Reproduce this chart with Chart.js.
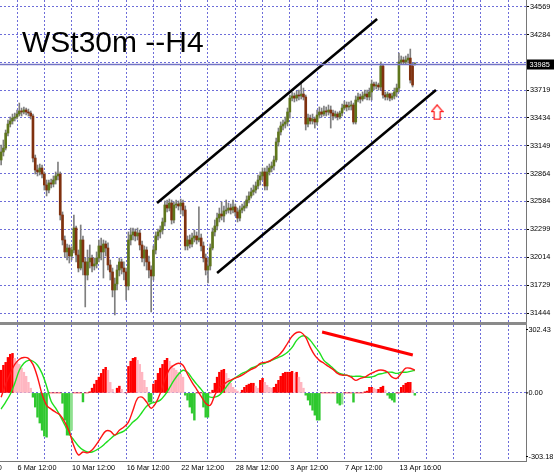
<!DOCTYPE html>
<html>
<head>
<meta charset="utf-8">
<title>WSt30m H4</title>
<script src="https://cdn.jsdelivr.net/npm/chart.js@4.4.1/dist/chart.umd.min.js"></script>
<style>
  body { margin: 0; background: #fff; }
  #wrap { position: relative; width: 554px; height: 473px; overflow: hidden; background: #fff; }
  #mainChart { position: absolute; left: 0; top: 0; }
  #oscChart { position: absolute; left: 0; top: 325px; }
  #sep { position: absolute; left: 0; top: 322px; width: 527px; height: 3px; background: #8a8a8a; }
  #title { position: absolute; left: 22px; top: 27px; font-family: "Liberation Sans", Arial, sans-serif;
           font-size: 30px; line-height: 30px; color: #000; white-space: nowrap; }
</style>
</head>
<body>
<div id="wrap">
  <canvas id="mainChart" width="554" height="322"></canvas>
  <div id="sep"></div>
  <canvas id="oscChart" width="554" height="148"></canvas>
  <div id="title">WSt30m --H4</div>
</div>
<script>
// H4 candles, bar 0 = 3 Mar 08:00 ... bar 182 = 14 Apr
const opens = [
  33005, 33087, 33127, 33280, 33372, 33403, 33433, 33444, 33474, 33505,
  33495, 33515, 33495, 33484, 33454, 33025, 32903, 32883, 32923, 32862,
  32750, 32699, 32771, 32760, 32801, 32842, 32862, 32444, 32189, 32067,
  32107, 32026, 32087, 32311, 32036, 31903, 32189, 31965, 31832, 31965,
  32005, 31924, 31944, 32005, 32128, 32067, 32148, 32107, 31934, 31863,
  31679, 31740, 31883, 31965, 31903, 31863, 31720, 32189, 32240, 32271,
  32230, 32260, 32138, 32005, 32087, 31965, 31883, 31822, 32087, 32230,
  32271, 32291, 32373, 32546, 32515, 32566, 32393, 32546, 32556, 32536,
  32566, 32495, 32128, 32189, 32148, 32209, 32230, 32189, 32209, 32128,
  32005, 31883, 31924, 32107, 32271, 32332, 32413, 32454, 32434, 32485,
  32495, 32515, 32495, 32526, 32475, 32413, 32495, 32515, 32536, 32597,
  32638, 32679, 32699, 32740, 32801, 32842, 32883, 32740, 32883, 32923,
  32944, 33005, 33189, 33291, 33352, 33372, 33393, 33495, 33637, 33658,
  33637, 33668, 33658, 33678, 33648, 33372, 33433, 33403, 33423, 33393,
  33464, 33495, 33474, 33505, 33495, 33515, 33484, 33454, 33474, 33444,
  33484, 33535, 33566, 33546, 33556, 33566, 33393, 33617, 33648, 33627,
  33658, 33678, 33648, 33699, 33780, 33760, 33770, 33750, 33964, 33668,
  33648, 33678, 33637, 33658, 33699, 33739, 34005, 34025, 34005, 34025,
  34045, 33964, 33980
];
const highs = [
  33158, 33209, 33311, 33413, 33444, 33474, 33484, 33515, 33586, 33535,
  33546, 33535, 33525, 33505, 33474, 33056, 32954, 32964, 32954, 32883,
  32801, 32801, 32811, 32842, 32883, 32985, 32883, 32475, 32230, 32148,
  32138, 32118, 32444, 32332, 32087, 32342, 32230, 32005, 32087, 32138,
  32036, 32005, 32067, 32189, 32209, 32189, 32179, 32159, 31985, 31903,
  31801, 31934, 32005, 31995, 31965, 31903, 32271, 32311, 32311, 32301,
  32311, 32291, 32179, 32128, 32118, 32026, 31924, 32128, 32271, 32301,
  32332, 32413, 32587, 32597, 32607, 32597, 32577, 32597, 32587, 32607,
  32597, 32536, 32230, 32240, 32260, 32291, 32271, 32526, 32250, 32169,
  32046, 32005, 32148, 32311, 32393, 32464, 32515, 32577, 32536, 32597,
  32566, 32556, 32597, 32556, 32515, 32536, 32556, 32577, 32638, 32679,
  32719, 32750, 32781, 32852, 32883, 32923, 32923, 32944, 32964, 32985,
  33046, 33229, 33331, 33393, 33413, 33444, 33535, 33668, 33699, 33688,
  33709, 33719, 33790, 33739, 33668, 33474, 33464, 33474, 33444, 33515,
  33546, 33535, 33556, 33546, 33566, 33556, 33515, 33505, 33495, 33505,
  33576, 33607, 33597, 33597, 33607, 33586, 33658, 33688, 33678, 33699,
  33719, 33719, 33739, 33821, 33801, 33801, 33790, 34005, 33984, 33699,
  33699, 33688, 33688, 33739, 33780, 34096, 34066, 34056, 34066, 34086,
  34137, 33994, 33998
];
const lows = [
  32954, 33046, 33107, 33250, 33342, 33372, 33403, 33423, 33454, 33454,
  33474, 33464, 33454, 33423, 32985, 32862, 32842, 32852, 32821, 32699,
  32638, 32668, 32719, 32730, 32760, 32801, 32393, 32138, 32016, 31985,
  31954, 31985, 32056, 31965, 31863, 31883, 31832, 31506, 31781, 31903,
  31863, 31883, 31903, 31965, 31985, 31801, 32026, 31883, 31781, 31608,
  31424, 31679, 31822, 31842, 31781, 31577, 31679, 32138, 32189, 32179,
  32189, 32087, 31965, 31924, 31883, 31801, 31455, 31781, 32046, 32189,
  32209, 32250, 32332, 32475, 32485, 32352, 32362, 32515, 32495, 32454,
  32434, 32087, 32087, 32107, 32118, 32169, 32148, 32169, 32077, 31965,
  31832, 31750, 31883, 32087, 32230, 32291, 32373, 32393, 32373, 32454,
  32464, 32454, 32464, 32434, 32373, 32383, 32464, 32485, 32515, 32566,
  32617, 32648, 32668, 32709, 32750, 32801, 32699, 32699, 32852, 32883,
  32903, 32985, 33148, 33260, 33311, 33331, 33352, 33433, 33607, 33597,
  33607, 33617, 33627, 33617, 33311, 33342, 33372, 33372, 33331, 33362,
  33433, 33444, 33454, 33454, 33464, 33331, 33413, 33433, 33413, 33423,
  33454, 33515, 33505, 33515, 33515, 33372, 33372, 33597, 33586, 33607,
  33627, 33617, 33617, 33617, 33719, 33729, 33719, 33719, 33637, 33617,
  33617, 33607, 33617, 33627, 33648, 33699, 33984, 33984, 33984, 33994,
  33790, 33750, 33972
];
const closes = [
  33087, 33127, 33280, 33372, 33403, 33433, 33444, 33474, 33505, 33495,
  33515, 33495, 33484, 33454, 33025, 32903, 32883, 32923, 32862, 32750,
  32699, 32771, 32760, 32801, 32842, 32862, 32444, 32189, 32067, 32107,
  32026, 32087, 32311, 32036, 31903, 32189, 31965, 31832, 31965, 32005,
  31924, 31944, 32005, 32128, 32067, 32148, 32107, 31934, 31863, 31679,
  31740, 31883, 31965, 31903, 31863, 31720, 32189, 32240, 32271, 32230,
  32260, 32138, 32005, 32087, 31965, 31883, 31822, 32087, 32230, 32271,
  32291, 32373, 32546, 32515, 32566, 32393, 32546, 32556, 32536, 32566,
  32495, 32128, 32189, 32148, 32209, 32230, 32189, 32209, 32128, 32005,
  31883, 31924, 32107, 32271, 32332, 32413, 32454, 32434, 32485, 32495,
  32515, 32495, 32526, 32475, 32413, 32495, 32515, 32536, 32597, 32638,
  32679, 32699, 32740, 32801, 32842, 32883, 32740, 32883, 32923, 32944,
  33005, 33189, 33291, 33352, 33372, 33393, 33495, 33637, 33658, 33637,
  33668, 33658, 33678, 33648, 33372, 33433, 33403, 33423, 33393, 33464,
  33495, 33474, 33505, 33495, 33515, 33484, 33454, 33474, 33444, 33484,
  33535, 33566, 33546, 33556, 33566, 33393, 33617, 33648, 33627, 33658,
  33678, 33648, 33699, 33780, 33760, 33770, 33750, 33964, 33668, 33648,
  33678, 33637, 33658, 33699, 33739, 34005, 34025, 34005, 34025, 34045,
  33821, 33770, 33985
];

// oscillator histogram, one value per bar
const histogram = [
  101, 123, 136, 158, 172, 176, 154, 136, 127, 110,
  92, 74, 47, 21, -19, -63, -108, -134, -166, -192,
  -197, 0, 0, 0, 0, 0, 0, -46, -121, -188,
  -188, -166, 0, 0, 0, 0, -40, 0, 0, 5,
  21, 39, 56, 70, 87, 105, 114, 101, 47, 16,
  0, 21, 30, 16, 0, 0, 118, 141, 154, 158,
  145, 127, 92, 56, 25, -41, -41, 39, 56, 87,
  110, 127, 145, 154, 141, 123, 110, 101, 92, 83,
  70, -10, -32, -63, -90, -121, 0, 0, 0, -63,
  -108, -108, 0, 12, 43, 70, 92, 101, 105, 87,
  65, 43, 25, 16, 8, 0, 12, 25, 34, 39,
  43, 43, 30, 21, 56, 65, 47, 34, 25, 21,
  25, 39, 56, 74, 87, 92, 92, 92, 96, 87,
  92, 70, 47, 21, -10, -32, -54, -77, -99, -121,
  -121, 0, 0, 0, 0, 0, 0, 0, -46, -54,
  -50, 0, 0, 0, 0, -41, 0, 0, 0, 0,
  5, 8, 25, 25, 21, 16, 16, 25, 30, 12,
  -10, -24, -32, -41, 0, 0, 25, 34, 43, 47,
  47, 12, -10
];
// oscillator lines, read every second bar (bar 0, 2, 4 ...)
const fastLine = [
  -19, 39, 87, 127, 150, 158, 154, 127, 70, -6,
  -55, -72, -86, -99, -130, -174, -236, -276, -263, -267,
  -254, -228, -197, -170, -170, -188, -166, -152, -130, -77,
  -24, -19, -41, -68, -46, -1, 56, 105, 123, 132,
  123, 83, 47, 16, -15, -46, -55, -10, 25, 39,
  52, 61, 70, 79, 92, 105, 114, 132, 136, 141,
  154, 167, 189, 221, 252, 269, 269, 247, 203, 167,
  145, 132, 118, 105, 87, 79, 79, 70, 56, 65,
  70, 83, 92, 101, 101, 92, 70, 65, 87, 110,
  110, 101
];
const slowLine = [
  -72, -41, -6, 43, 101, 132, 145, 141, 123, 87,
  30, -37, -68, -103, -143, -183, -210, -236, -254, -263,
  -263, -254, -241, -223, -205, -188, -179, -170, -152, -130,
  -113, -86, -59, -46, -41, -32, -10, 21, 56, 83,
  101, 92, 65, 39, 16, -10, -19, -19, -10, 12,
  39, 61, 74, 87, 96, 110, 118, 127, 132, 141,
  150, 158, 167, 181, 203, 234, 252, 252, 234, 207,
  181, 145, 127, 110, 92, 83, 79, 74, 74, 74,
  70, 70, 74, 83, 87, 92, 92, 87, 92, 92,
  96, 101
];

const bidPrice = 33985;
const priceTicks = [34569, 34284, 34001, 33719, 33434, 33149, 32864, 32584, 32299, 32014, 31729, 31444];
const oscTickValues = [302.43, 0, -303.18];
const oscTickLabels = ['302.43', '0.00', '-303.18'];
const gridBars = [7, 19, 31, 43, 55, 67, 79, 91, 103, 115, 127, 139, 151, 163, 175, 187, 199, 211, 223];
const timeLabelBars = [-17, 7, 31, 55, 79, 103, 127, 151, 175];
const timeLabels = ['2 Mar 12:00', '6 Mar 12:00', '10 Mar 12:00', '16 Mar 12:00', '22 Mar 12:00',
                    '28 Mar 12:00', '3 Apr 12:00', '7 Apr 12:00', '13 Apr 16:00'];

// objects drawn on the chart (bar index, price / value)
const upperChannel = [[68.6, 32566], [165.4, 34444]];
const lowerChannel = [[95.0, 31852], [191.3, 33719]];
const oscTrend = [[141.2, 271], [181.1, 169]];
const arrowPoint = [191.8, 33493];

const GRID = 'rgba(72,72,208,0.8)';
const AXIS = '#767676';
const FONT = '"Liberation Sans", Arial, sans-serif';

function timeScale(height, showBorder) {
  return {
    type: 'linear', min: -0.5, max: 230.9, offset: false,
    afterBuildTicks: s => { s.ticks = gridBars.map(v => ({ value: v })); },
    ticks: { display: false },
    grid: { color: GRID, lineWidth: 1, drawTicks: false, offset: false },
    border: { display: showBorder, color: AXIS, width: 1, dash: [2, 2] },
    afterFit: s => { s.height = height; s.paddingLeft = 0; s.paddingRight = 0; }
  };
}

// red outlined up arrow used as a point style
const arrowImg = document.createElement('canvas');
arrowImg.width = 13; arrowImg.height = 16;
(function () {
  const a = arrowImg.getContext('2d');
  a.beginPath();
  a.moveTo(6.5, 0.8); a.lineTo(12.2, 7.5); a.lineTo(9.5, 7.5); a.lineTo(9.5, 15.2);
  a.lineTo(3.5, 15.2); a.lineTo(3.5, 7.5); a.lineTo(0.8, 7.5); a.closePath();
  a.fillStyle = '#fff'; a.fill();
  a.strokeStyle = '#ff1010'; a.lineWidth = 1.2; a.stroke();
})();

const bidLine = {
  id: 'bidLine',
  afterDatasetsDraw(chart) {
    const { ctx, chartArea, scales: { y } } = chart;
    const py = Math.round(y.getPixelForValue(bidPrice)) + 0.5;
    ctx.save();
    ctx.strokeStyle = '#7474c4';
    ctx.lineWidth = 1.5;
    ctx.beginPath(); ctx.moveTo(chartArea.left, py); ctx.lineTo(chartArea.right, py); ctx.stroke();
    ctx.fillStyle = '#000';
    ctx.fillRect(chartArea.right + 1, py - 5, 28, 10);
    ctx.fillStyle = '#fff';
    ctx.font = '7.3px ' + FONT;
    ctx.textBaseline = 'middle';
    ctx.fillText(String(bidPrice), chartArea.right + 3.5, py + 0.5);
    ctx.restore();
  }
};

const oscText = {
  id: 'oscText',
  afterDraw(chart) {
    const { ctx, chartArea, scales: { x, y } } = chart;
    ctx.save();
    ctx.fillStyle = '#000';
    ctx.strokeStyle = '#000';
    ctx.lineWidth = 1;
    ctx.font = '7.3px ' + FONT;
    ctx.textBaseline = 'middle';
    oscTickValues.forEach((v, k) => {
      let py = y.getPixelForValue(v);
      py = Math.min(Math.max(py, chartArea.top + 4.5), chartArea.bottom - 4.5);
      ctx.beginPath(); ctx.moveTo(chartArea.right, py); ctx.lineTo(chartArea.right + 2, py); ctx.stroke();
      ctx.fillText(oscTickLabels[k], chartArea.right + 2.5, py);
    });
    timeLabelBars.forEach((b, k) => {
      const px = x.getPixelForValue(b);
      ctx.fillText(timeLabels[k], px + 0.5, chartArea.bottom + 6.5);
    });
    ctx.restore();
  }
};

new Chart(document.getElementById('mainChart'), {
  type: 'bar',
  data: {
    datasets: [
      { type: 'line', label: 'upper channel', data: upperChannel.map(p => ({ x: p[0], y: p[1] })),
        borderColor: '#000', borderWidth: 2.6, pointRadius: 0, order: 0 },
      { type: 'line', label: 'lower channel', data: lowerChannel.map(p => ({ x: p[0], y: p[1] })),
        borderColor: '#000', borderWidth: 2.6, pointRadius: 0, order: 0 },
      { type: 'scatter', label: 'arrow', data: [{ x: arrowPoint[0], y: arrowPoint[1] }],
        pointStyle: arrowImg, pointRadius: 8, order: 0 },
      { label: 'body', data: opens.map((o, i) => ({ x: i, y: [o, closes[i]] })),
        backgroundColor: c => (closes[c.dataIndex] >= opens[c.dataIndex] ? '#5f761c' : '#80310f'),
        barThickness: 2, minBarLength: 1, grouped: false, order: 2 },
      { label: 'wick', data: lows.map((l, i) => ({ x: i, y: [l, highs[i]] })),
        backgroundColor: '#7f7f7f', barThickness: 1, grouped: false, order: 3 }
    ]
  },
  options: {
    responsive: false, animation: false, events: [],
    layout: { padding: 0, autoPadding: false },
    plugins: { legend: { display: false }, tooltip: { enabled: false } },
    scales: {
      x: timeScale(0, false),
      y: {
        position: 'right', min: 31352.2, max: 34637.4,
        afterBuildTicks: s => { s.ticks = priceTicks.map(v => ({ value: v })); },
        ticks: { color: '#000', font: { family: FONT, size: 7.3 }, padding: 1, autoSkip: false,
                 callback: v => (v === 34001 ? '' : String(v)) },
        grid: { color: GRID, drawTicks: true, tickLength: 3, tickColor: '#000', tickWidth: 1 },
        border: { display: true, color: AXIS, width: 1, dash: [2, 2] },
        afterFit: s => { s.width = 28; s.paddingTop = 0; s.paddingBottom = 0; }
      }
    }
  },
  plugins: [bidLine]
});

new Chart(document.getElementById('oscChart'), {
  type: 'bar',
  data: {
    datasets: [
      { type: 'line', label: 'divergence', data: oscTrend.map(p => ({ x: p[0], y: p[1] })),
        borderColor: '#ff0000', borderWidth: 3, pointRadius: 0, order: 0 },
      { type: 'line', label: 'fast', data: fastLine.map((v, k) => ({ x: 2 * k, y: v })),
        borderColor: '#ff1414', borderWidth: 1.4, pointRadius: 0, tension: 0.35, order: 1 },
      { type: 'line', label: 'slow', data: slowLine.map((v, k) => ({ x: 2 * k, y: v })),
        borderColor: '#1fe01f', borderWidth: 1.4, pointRadius: 0, tension: 0.35, order: 2 },
      { label: 'histogram', data: histogram.map((v, i) => ({ x: i, y: v })),
        backgroundColor: c => {
          const i = c.dataIndex, v = histogram[i], prev = i > 0 ? histogram[i - 1] : v;
          if (v >= 0) return v >= prev ? '#ff0000' : '#ffb6c1';
          return v <= prev ? '#2fc82f' : '#8fe08f';
        },
        barThickness: 1.8, grouped: false, order: 3 }
    ]
  },
  options: {
    responsive: false, animation: false, events: [],
    layout: { padding: 0, autoPadding: false },
    plugins: { legend: { display: false }, tooltip: { enabled: false } },
    scales: {
      x: timeScale(12, true),
      y: {
        position: 'right', min: -303.18, max: 302.43,
        afterBuildTicks: s => { s.ticks = [{ value: 0 }]; },
        ticks: { display: false },
        grid: { color: GRID, drawTicks: false },
        border: { display: true, color: AXIS, width: 1, dash: [2, 2] },
        afterFit: s => { s.width = 28; s.paddingTop = 0; s.paddingBottom = 0; }
      }
    }
  },
  plugins: [oscText]
});
</script>
</body>
</html>
